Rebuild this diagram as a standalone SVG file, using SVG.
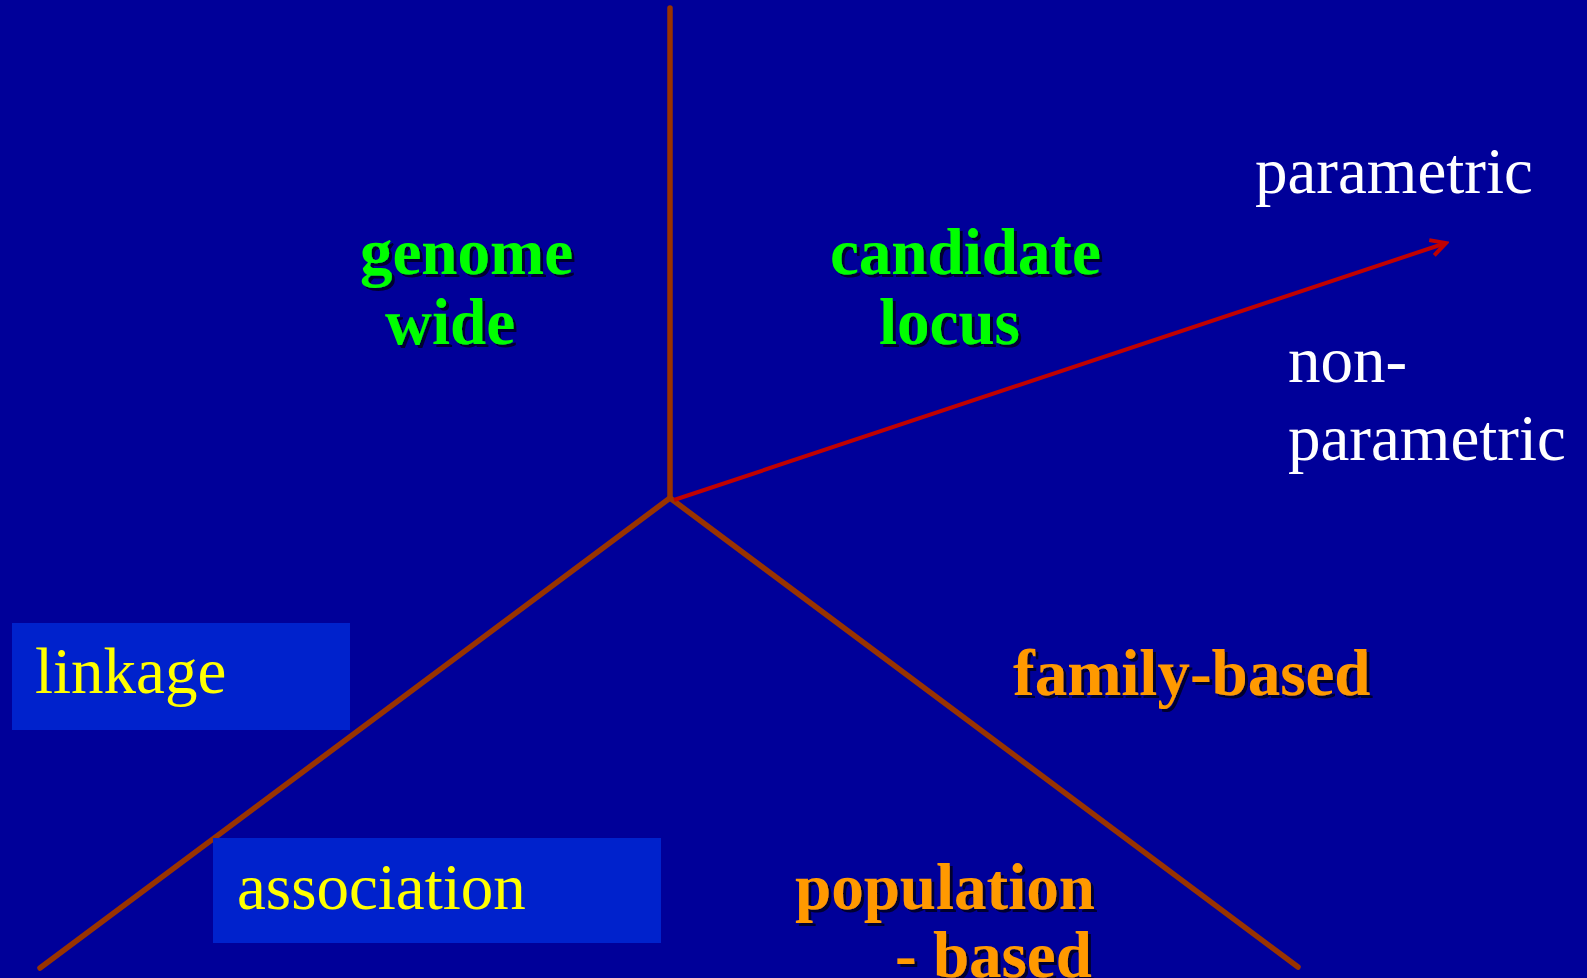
<svg xmlns="http://www.w3.org/2000/svg" width="1587" height="978" viewBox="0 0 1587 978">
<defs>
<style>
.bg{fill:#000099}
.axis{stroke:#993300;stroke-width:5.5;fill:none;stroke-linecap:round}
.arrow{stroke:#c00000;stroke-width:4;fill:none}
.box{fill:#0022cc}
.b{font-family:"Liberation Serif","Times New Roman",serif;font-weight:bold;font-size:65px;filter:url(#sh)}
.r{font-family:"Liberation Serif","Times New Roman",serif;font-size:65px}
.g{fill:#00ff00}
.o{fill:#ff9900}
.w{fill:#ffffff}
.y{fill:#ffff00}
</style>
<filter id="sh" x="-10%" y="-20%" width="120%" height="150%">
<feDropShadow dx="3" dy="3" stdDeviation="0.6" flood-color="#000022" flood-opacity="0.9"/>
</filter>
<marker id="ah" viewBox="0 0 20 20" refX="17" refY="10" markerWidth="20" markerHeight="20" markerUnits="userSpaceOnUse" orient="auto">
<path d="M2,2 L17,10 L2,18" fill="none" stroke="#c00000" stroke-width="4" stroke-linejoin="miter"/>
</marker>
</defs>
<rect class="bg" x="0" y="0" width="1587" height="978"/>
<g id="connectors">
<line class="axis" x1="670" y1="8" x2="670" y2="498"/>
<line class="axis" x1="670" y1="498" x2="40" y2="968"/>
<line class="axis" x1="670" y1="498" x2="1298" y2="967"/>
<line class="arrow" x1="674" y1="500" x2="1446" y2="243" marker-end="url(#ah)"/>
</g>
<g id="genome-wide">
<text class="b g" x="360" y="274">genome</text>
<text class="b g" x="385" y="344">wide</text>
</g>
<g id="candidate-locus">
<text class="b g" x="830" y="274">candidate</text>
<text class="b g" x="879" y="344">locus</text>
</g>
<g id="parametric">
<text class="r w" x="1255" y="193">parametric</text>
</g>
<g id="non-parametric">
<text class="r w" x="1288" y="382">non-</text>
<text class="r w" x="1288" y="460">parametric</text>
</g>
<g id="linkage">
<rect class="box" x="12" y="623" width="338" height="107"/>
<text class="r y" x="35" y="693">linkage</text>
</g>
<g id="association">
<rect class="box" x="213" y="838" width="448" height="105"/>
<text class="r y" x="237" y="909">association</text>
</g>
<g id="family-based">
<text class="b o" x="1013" y="695">family-based</text>
</g>
<g id="population-based">
<text class="b o" x="795" y="909">population</text>
<text class="b o" x="895" y="977">- based</text>
</g>
</svg>
